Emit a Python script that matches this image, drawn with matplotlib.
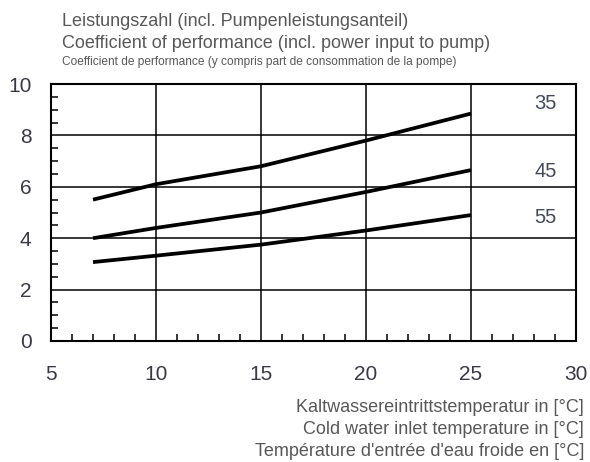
import matplotlib.pyplot as plt
from matplotlib.ticker import MultipleLocator

plt.rcParams['font.family'] = ['Liberation Sans', 'DejaVu Sans']

# cold water inlet temperature [°C]
temp = [7, 10, 15, 20, 25]

# COP curves per hot water outlet temperature
cop_35 = [5.5, 6.1, 6.8, 7.8, 8.85]
cop_45 = [4.0, 4.4, 5.0, 5.8, 6.65]
cop_55 = [3.07, 3.32, 3.75, 4.3, 4.9]

curve_labels = ['35', '45', '55']
label_y = [9.26, 6.6, 4.8]

text_col = '#585858'

fig = plt.figure(figsize=(5.9, 4.62), dpi=100)
ax = fig.add_axes([51 / 590, 1 - 341 / 462, 525 / 590, 257 / 462])

for ys in (cop_35, cop_45, cop_55):
    ax.plot(temp, ys, color='black', lw=2.7, solid_capstyle='butt')

for lab, y in zip(curve_labels, label_y):
    ax.text(28.55, y, lab, fontsize=14.5, color='#444a58', ha='center', va='center')

ax.set_xlim(5, 30)
ax.set_ylim(0, 10)
ax.xaxis.set_major_locator(MultipleLocator(5))
ax.xaxis.set_minor_locator(MultipleLocator(1))
ax.yaxis.set_major_locator(MultipleLocator(2))
ax.yaxis.set_minor_locator(MultipleLocator(0.5))
ax.grid(True, which='major', color='black', lw=1.1)
ax.tick_params(which='both', direction='in', colors='black', labelcolor='#3a3a44')
ax.tick_params(which='major', length=0, labelsize=15)
ax.tick_params(which='minor', length=5, width=1.1)
ax.tick_params(axis='x', pad=17)
ax.tick_params(axis='y', pad=14)
for s in ax.spines.values():
    s.set_linewidth(1.5)

fig.text(62 / 590, 1 - 21 / 462, 'Leistungszahl (incl. Pumpenleistungsanteil)',
         fontsize=13, color=text_col, va='center')
fig.text(62 / 590, 1 - 43 / 462, 'Coefficient of performance (incl. power input to pump)',
         fontsize=13, color=text_col, va='center')
fig.text(62 / 590, 1 - 62 / 462,
         'Coefficient de performance (y compris part de consommation de la pompe)',
         fontsize=8.6, color=text_col, va='center')

fig.text(584 / 590, 1 - 407 / 462, 'Kaltwassereintrittstemperatur in [°C]',
         fontsize=13, color=text_col, va='center', ha='right')
fig.text(584 / 590, 1 - 430 / 462, 'Cold water inlet temperature in [°C]',
         fontsize=13, color=text_col, va='center', ha='right')
fig.text(584 / 590, 1 - 452 / 462, "Température d'entrée d'eau froide en [°C]",
         fontsize=13, color=text_col, va='center', ha='right')

fig.savefig('out.png', dpi=100)
